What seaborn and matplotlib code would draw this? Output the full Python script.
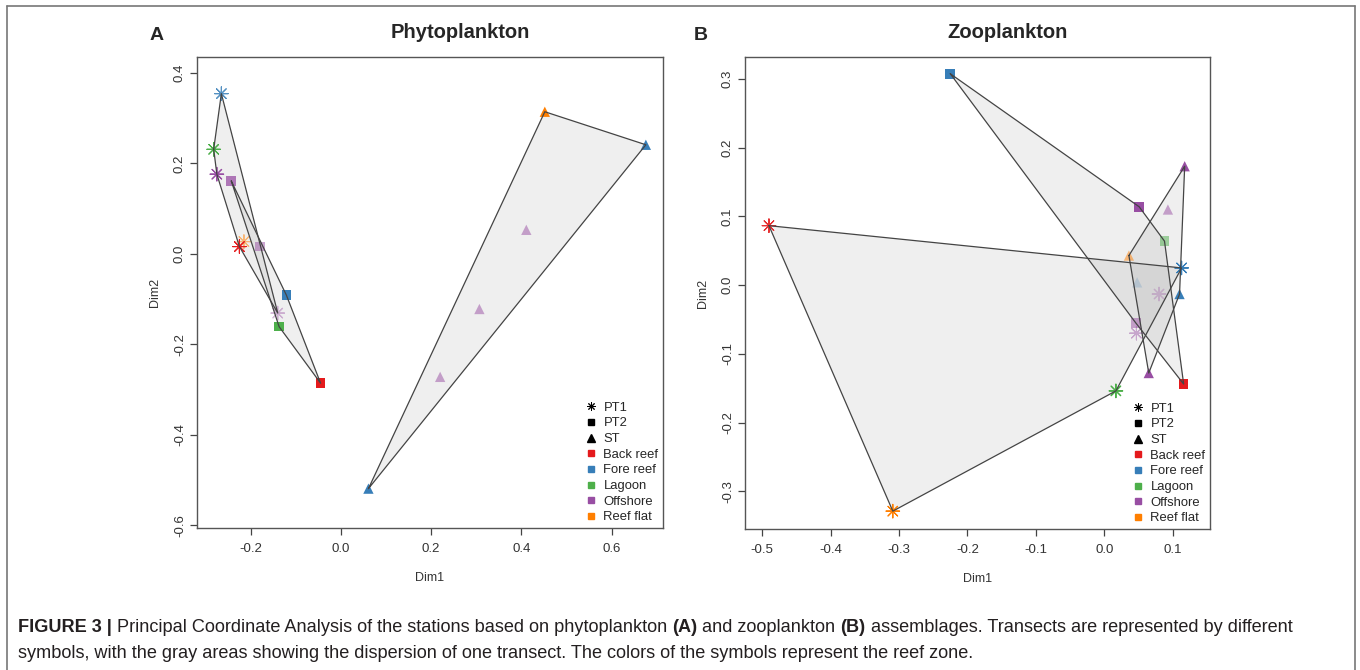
import numpy as np
import pandas as pd
import matplotlib
matplotlib.use("Agg")
import matplotlib.pyplot as plt
from matplotlib.lines import Line2D
from matplotlib.ticker import FormatStrFormatter
from matplotlib.colors import to_rgba
import seaborn as sns

# ---------------- data ----------------
zones = ["Back reef", "Fore reef", "Lagoon", "Offshore", "Reef flat"]
transects = ["PT1", "PT2", "ST"]

# Phytoplankton PCoA
phyto_transect = ["PT1"] * 6 + ["PT2"] * 5 + ["ST"] * 6
phyto_zone = ["Fore reef", "Lagoon", "Offshore", "Reef flat", "Back reef", "Offshore",
              "Offshore", "Offshore", "Fore reef", "Lagoon", "Back reef",
              "Reef flat", "Fore reef", "Offshore", "Offshore", "Offshore", "Fore reef"]
phyto_dim1 = [-0.265, -0.282, -0.275, -0.215, -0.225, -0.140,
              -0.243, -0.180, -0.121, -0.137, -0.045,
              0.452, 0.676, 0.411, 0.307, 0.220, 0.061]
phyto_dim2 = [0.354, 0.231, 0.176, 0.027, 0.016, -0.131,
              0.161, 0.016, -0.091, -0.161, -0.286,
              0.314, 0.241, 0.053, -0.122, -0.272, -0.519]

# Zooplankton PCoA
zoo_transect = ["PT1"] * 6 + ["PT2"] * 5 + ["ST"] * 6
zoo_zone = ["Back reef", "Reef flat", "Fore reef", "Offshore", "Offshore", "Lagoon",
            "Fore reef", "Offshore", "Lagoon", "Offshore", "Back reef",
            "Offshore", "Offshore", "Reef flat", "Fore reef", "Fore reef", "Offshore"]
zoo_dim1 = [-0.490, -0.309, 0.113, 0.080, 0.047, 0.017,
            -0.225, 0.051, 0.088, 0.046, 0.116,
            0.1175, 0.093, 0.036, 0.048, 0.110, 0.065]
zoo_dim2 = [0.0865, -0.329, 0.025, -0.013, -0.070, -0.154,
            0.3076, 0.114, 0.064, -0.055, -0.144,
            0.173, 0.110, 0.043, 0.004, -0.013, -0.128]

# ---------------- styles ----------------
phyto_opacity = [0.85, 1, 1, 0.5, 1, 0.4,
                 0.75, 0.5, 1, 1, 1,
                 1, 1, 0.5, 0.5, 0.5, 1]
zoo_opacity = [0.9, 1, 1, 0.3, 0.45, 1,
               1, 1, 0.5, 0.5, 1,
               1, 0.5, 0.5, 0.2, 1, 1]

zone_colors = {"Back reef": "#E41A1C", "Fore reef": "#377EB8", "Lagoon": "#4DAF4A",
               "Offshore": "#984EA3", "Reef flat": "#FF7F00"}
transect_markers = {"PT1": (8, 2, 0), "PT2": "s", "ST": "^"}
transect_sizes = {"PT1": 95, "PT2": 48, "ST": 55}

W, H = 1360, 670
sns.set_style("white")
plt.rcParams["font.family"] = ["Liberation Sans", "DejaVu Sans"]
plt.rcParams["axes.unicode_minus"] = False

fig = plt.figure(figsize=(W / 100, H / 100), dpi=100)


def px_axes(l, t, r, b):
    return fig.add_axes([l / W, 1 - b / H, (r - l) / W, (b - t) / H])


def convex_hull(pts):
    pts = sorted(set(map(tuple, pts)))
    if len(pts) < 3:
        return pts

    def cross(o, a, b):
        return (a[0] - o[0]) * (b[1] - o[1]) - (a[1] - o[1]) * (b[0] - o[0])
    lower, upper = [], []
    for p in pts:
        while len(lower) >= 2 and cross(lower[-2], lower[-1], p) <= 0:
            lower.pop()
        lower.append(p)
    for p in reversed(pts):
        while len(upper) >= 2 and cross(upper[-2], upper[-1], p) <= 0:
            upper.pop()
        upper.append(p)
    return lower[:-1] + upper[:-1]


def panel(ax, df, xlim, ylim, xticks, yticks):
    # hulls (fill)
    for tr in transects:
        sub = df[df.transect == tr]
        hull = np.array(convex_hull(sub[["dim1", "dim2"]].values))
        ax.fill(hull[:, 0], hull[:, 1], facecolor="#808080", alpha=0.12,
                edgecolor="none", zorder=1)
    # points
    for tr in transects:
        sub = df[df.transect == tr]
        sns.scatterplot(data=sub, x="dim1", y="dim2", hue="zone", palette=zone_colors,
                        marker=transect_markers[tr], s=transect_sizes[tr],
                        linewidth=0.8 if tr == "PT1" else 0, legend=False, ax=ax, zorder=2)
        coll = ax.collections[-1]
        rgba = [to_rgba(zone_colors[z], a) for z, a in zip(sub.zone, sub.opacity)]
        coll.set_facecolors(rgba)
        coll.set_edgecolors(rgba)
    # hull outlines
    for tr in transects:
        sub = df[df.transect == tr]
        hull = np.array(convex_hull(sub[["dim1", "dim2"]].values))
        hull = np.vstack([hull, hull[:1]])
        ax.plot(hull[:, 0], hull[:, 1], color="#444444", lw=0.9, zorder=3)

    ax.set_xlim(*xlim)
    ax.set_ylim(*ylim)
    ax.set_xticks(xticks)
    ax.set_yticks(yticks)
    ax.xaxis.set_major_formatter(FormatStrFormatter("%.1f"))
    ax.yaxis.set_major_formatter(FormatStrFormatter("%.1f"))
    ax.tick_params(axis="both", which="major", direction="out", length=5, width=0.9,
                   color="#444444", labelsize=9.5, labelcolor="#333333", pad=6,
                   bottom=True, left=True)
    ax.tick_params(axis="y", pad=3)
    for lab in ax.get_yticklabels():
        lab.set_rotation(90)
        lab.set_va("center")
    for sp in ax.spines.values():
        sp.set_color("#555555")
        sp.set_linewidth(1.0)
    ax.set_xlabel("Dim1", fontsize=9, color="#333333", labelpad=12)
    ax.set_ylabel("Dim2", fontsize=9, color="#333333", labelpad=9)

    handles = [Line2D([], [], ls="none", marker=(8, 2, 0), color="black", markersize=6, mew=0.7),
               Line2D([], [], ls="none", marker="s", color="black", markersize=5),
               Line2D([], [], ls="none", marker="^", color="black", markersize=5.5)]
    handles += [Line2D([], [], ls="none", marker="s", color=zone_colors[z], markersize=5)
                for z in zones]
    labels = transects + zones
    ax.legend(handles, labels, loc="lower right", frameon=False, fontsize=9.4,
              labelspacing=0.27, handletextpad=0.35, handlelength=1.2,
              borderaxespad=0.1, borderpad=0.25)


phyto = pd.DataFrame({"transect": phyto_transect, "zone": phyto_zone,
                      "dim1": phyto_dim1, "dim2": phyto_dim2, "opacity": phyto_opacity})
zoo = pd.DataFrame({"transect": zoo_transect, "zone": zoo_zone,
                    "dim1": zoo_dim1, "dim2": zoo_dim2, "opacity": zoo_opacity})

ax1 = px_axes(197, 57, 663, 528)
panel(ax1, phyto, (-0.319, 0.714), (-0.606, 0.435),
      [-0.2, 0.0, 0.2, 0.4, 0.6], [-0.6, -0.4, -0.2, 0.0, 0.2, 0.4])

ax2 = px_axes(745, 57, 1210, 529)
panel(ax2, zoo, (-0.525, 0.1545), (-0.355, 0.332),
      [-0.5, -0.4, -0.3, -0.2, -0.1, 0.0, 0.1], [-0.3, -0.2, -0.1, 0.0, 0.1, 0.2, 0.3])

# titles and panel letters
fig.text(460 / W, 1 - 32 / H, "Phytoplankton", ha="center", va="center",
         fontsize=14.5, fontweight="bold")
fig.text(1008 / W, 1 - 32 / H, "Zooplankton", ha="center", va="center",
         fontsize=14.5, fontweight="bold")
fig.text(157 / W, 1 - 35 / H, "A", ha="center", va="center", fontsize=14, fontweight="bold")
fig.text(701 / W, 1 - 35 / H, "B", ha="center", va="center", fontsize=14, fontweight="bold")

# outer frame
frame_col = "#777777"
fig.add_artist(Line2D([7 / W, 1355 / W], [1 - 6 / H, 1 - 6 / H], color=frame_col, lw=1.2))
fig.add_artist(Line2D([7 / W, 7 / W], [1 - 6 / H, 0], color=frame_col, lw=1.2))
fig.add_artist(Line2D([1355 / W, 1355 / W], [1 - 6 / H, 0], color=frame_col, lw=1.2))

# caption
renderer = fig.canvas.get_renderer()


def draw_runs(x_px, y_px, runs, size):
    x = x_px
    for s, weight in runs:
        t = fig.text(x / W, 1 - y_px / H, s, fontsize=size, fontweight=weight,
                     ha="left", va="center", color="#231f20")
        x += t.get_window_extent(renderer).width


cap_size = 13.1
draw_runs(18, 627, [("FIGURE 3 |", "bold"),
                    (" Principal Coordinate Analysis of the stations based on phytoplankton ", "normal"),
                    ("(A)", "bold"), (" and zooplankton ", "normal"), ("(B)", "bold"),
                    (" assemblages. Transects are represented by different", "normal")], cap_size)
draw_runs(18, 654, [("symbols, with the gray areas showing the dispersion of one transect. "
                     "The colors of the symbols represent the reef zone.", "normal")], cap_size)

fig.savefig("out.png", dpi=100)
